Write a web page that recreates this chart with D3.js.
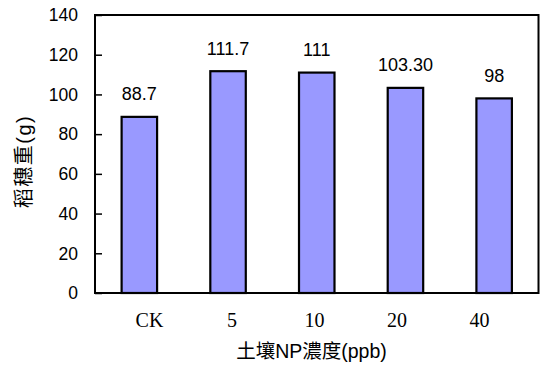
<!DOCTYPE html>
<html>
<head>
<meta charset="utf-8">
<script src="https://cdn.jsdelivr.net/npm/d3@7"></script>
<style>
  html, body { margin: 0; padding: 0; background: #fff; }
  svg { display: block; }
</style>
</head>
<body>
<svg id="chart" width="540" height="370"></svg>
<script>
// Rice panicle weight by soil NP concentration
const categories = ["CK", "5", "10", "20", "40"];
const values = [88.7, 111.7, 111, 103.3, 98];
const valueLabels = ["88.7", "111.7", "111", "103.30", "98"];
const yTicks = [0, 20, 40, 60, 80, 100, 120, 140];

const svg = d3.select("#chart");
const margin = { left: 95, right: 1.5, top: 15, bottom: 77 };
const W = 540, H = 370;
const x0 = margin.left, x1 = W - margin.right;
const y0 = H - margin.bottom, y1 = margin.top;

const x = d3.scaleBand().domain(categories).range([x0, x1]).paddingInner(0.6).paddingOuter(0.3);
const y = d3.scaleLinear().domain([0, 140]).range([y0, y1]);
// category captions sit on their own evenly spaced row beneath the bars
const xLabel = d3.scalePoint().domain(categories).range([x0 + 54.5, x1 - 59]);

const sans = "'Liberation Sans', Arial, sans-serif";
const serif = "'Liberation Serif', 'Times New Roman', serif";
const cjk = "'Liberation Sans', Arial, 'Noto Sans CJK TC', sans-serif";

// plot frame
svg.append("rect")
  .attr("x", x0).attr("y", y1)
  .attr("width", x1 - x0).attr("height", y0 - y1)
  .attr("fill", "none").attr("stroke", "#000").attr("stroke-width", 2);

// y axis ticks point into the plot
const yAxis = d3.axisRight(y).tickValues(yTicks).tickSize(7).tickFormat("");
const gy = svg.append("g").attr("transform", `translate(${x0},0)`).call(yAxis);
gy.select(".domain").remove();
gy.selectAll(".tick line").attr("stroke", "#000").attr("stroke-width", 1.5);

svg.append("g").selectAll("text").data(yTicks).join("text")
  .attr("x", x0 - 17).attr("y", d => y(d))
  .attr("dy", "0.36em")
  .attr("text-anchor", "end")
  .attr("font-family", sans).attr("font-size", 17.5)
  .text(d => d);

// bars
svg.append("g").selectAll("rect").data(values).join("rect")
  .attr("x", (d, i) => x(categories[i]))
  .attr("y", d => y(d))
  .attr("width", x.bandwidth())
  .attr("height", d => y0 - y(d))
  .attr("fill", "#9999FF")
  .attr("stroke", "#000").attr("stroke-width", 2.2);

// value labels above bars
svg.append("g").selectAll("text").data(values).join("text")
  .attr("x", (d, i) => x(categories[i]) + x.bandwidth() / 2)
  .attr("y", d => y(d) - 16.5)
  .attr("text-anchor", "middle")
  .attr("font-family", sans).attr("font-size", 18)
  .text((d, i) => valueLabels[i]);

// bottom axis line on top of bars
svg.append("line")
  .attr("x1", x0).attr("x2", x1).attr("y1", y0).attr("y2", y0)
  .attr("stroke", "#000").attr("stroke-width", 2);

// category labels
svg.append("g").selectAll("text").data(categories).join("text")
  .attr("x", d => xLabel(d))
  .attr("y", 327)
  .attr("text-anchor", "middle")
  .attr("font-family", serif).attr("font-size", 20)
  .text(d => d);

// axis titles
svg.append("text")
  .attr("x", 311.5).attr("y", 358)
  .attr("text-anchor", "middle")
  .attr("font-family", cjk).attr("font-size", 19.5)
  .text("土壤NP濃度(ppb)");

svg.append("text")
  .attr("transform", `translate(31,161.5) rotate(-90)`)
  .attr("text-anchor", "middle")
  .attr("font-family", cjk).attr("font-size", 20)
  .attr("letter-spacing", 1.5)
  .text("稻穗重(g)");
</script>
</body>
</html>
